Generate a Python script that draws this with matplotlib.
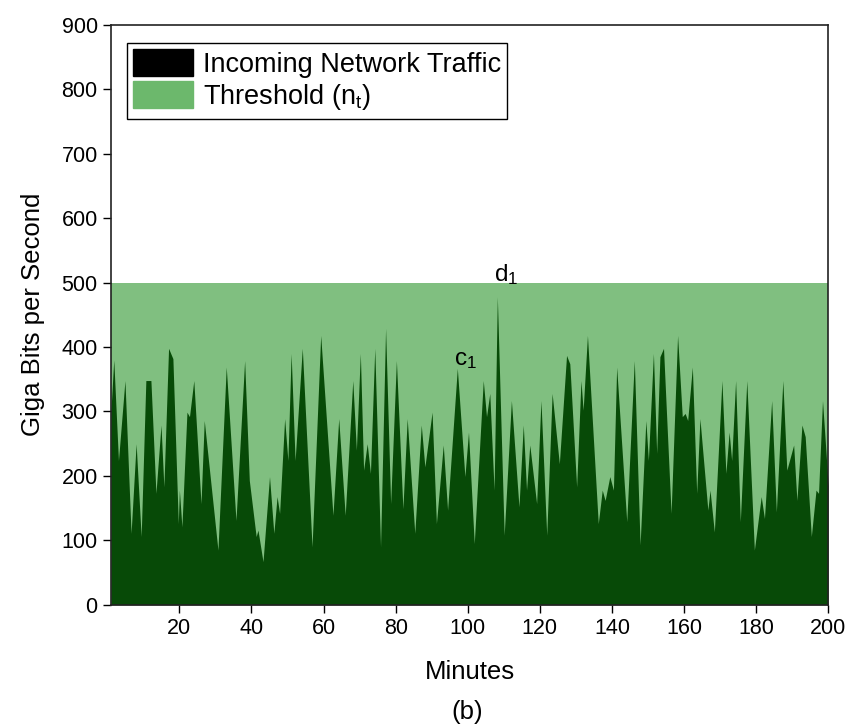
import numpy as np
import matplotlib
matplotlib.use("Agg")
import matplotlib.pyplot as plt
from matplotlib.patches import Patch

plt.rcParams['font.family'] = ['Liberation Sans', 'DejaVu Sans']
plt.rcParams['mathtext.fontset'] = 'custom'
plt.rcParams['mathtext.rm'] = 'Liberation Sans'
plt.rcParams['mathtext.it'] = 'Liberation Sans'

# incoming traffic, peaks and troughs (minute, Gbps)
minutes = [1.0, 1.8, 3.1, 4.9, 6.6, 8.0, 9.4, 10.7, 12.1, 13.5, 14.9, 15.7, 17.0, 18.2,
           19.7, 20.0, 20.7, 22.1, 22.8, 24.0, 26.0, 26.9, 30.7, 33.0, 35.7, 38.1,
           39.4, 41.3, 41.8, 43.2, 45.0, 46.2, 47.1, 47.8, 49.2, 50.1, 51.0, 52.1,
           54.1, 56.8, 59.2, 62.6, 64.2, 66.0, 68.1, 69.1, 70.2, 71.1, 72.1, 73.0,
           74.2, 75.8, 77.2, 78.6, 80.2, 82.0, 83.2, 85.3, 87.1, 88.1, 90.1, 91.3,
           93.2, 94.4, 97.1, 99.2, 100.2, 101.8, 104.3, 105.2, 106.1, 107.3, 108.2,
           110.1, 112.1, 114.2, 115.4, 116.3, 117.2, 119.1, 120.3, 121.9, 123.4,
           125.4, 127.4, 128.3, 130.2, 131.4, 132.0, 133.2, 136.2, 137.3, 138.1,
           139.4, 140.4, 141.3, 144.1, 146.2, 147.8, 149.4, 150.1, 151.5, 152.4,
           153.3, 154.3, 156.4, 158.2, 159.5, 160.3, 161.0, 162.3, 163.5, 164.4,
           166.6, 167.2, 168.4, 170.5, 171.6, 172.5, 173.2, 174.3, 175.6, 177.4,
           179.5, 181.4, 182.3, 184.3, 185.6, 187.4, 188.5, 190.4, 191.3, 192.7,
           193.6, 195.3, 196.6, 197.3, 198.4, 200.0]
traffic = [300, 380, 224, 348, 111, 250, 106, 348, 348, 173, 279, 183, 398, 382,
           126, 178, 121, 299, 292, 348, 157, 286, 85, 369, 131, 379,
           193, 106, 116, 67, 199, 111, 168, 142, 289, 224, 390, 224,
           398, 90, 418, 139, 289, 139, 348, 240, 390, 209, 250, 204,
           398, 90, 429, 157, 379, 149, 289, 111, 279, 214, 299, 126,
           248, 147, 367, 199, 268, 95, 348, 292, 328, 178, 478,
           108, 317, 152, 279, 178, 248, 157, 317, 108, 328,
           219, 387, 374, 183, 348, 302, 418, 126, 178, 162,
           199, 178, 369, 129, 379, 93, 286, 224, 390, 235,
           385, 398, 142, 418, 292, 297, 286, 369, 173, 289,
           147, 178, 113, 348, 204, 268, 224, 348, 129, 348,
           85, 168, 134, 317, 144, 348, 209, 248, 162, 279,
           261, 106, 178, 173, 317, 185]
threshold = 500

dark_green = '#074a07'
light_green = '#80bf80'

fig = plt.figure(figsize=(8.53, 7.27), dpi=100)
ax = fig.add_axes([0.130, 0.168, 0.841, 0.798])

ax.fill_between([1, 200], 0, threshold, color=light_green, linewidth=0)
ax.fill_between(minutes, 0, traffic, color=dark_green, linewidth=0)

ax.text(96.3, 372, r'c$_\mathregular{1}$', fontsize=17.5, ha='left', va='baseline')
ax.text(107.3, 502, r'd$_\mathregular{1}$', fontsize=17.5, ha='left', va='baseline')

ax.set_xlim(1, 200)
ax.set_ylim(0, 900)
ax.set_xticks(np.arange(20, 201, 20))
ax.set_yticks(np.arange(0, 901, 100))
ax.tick_params(direction='out', length=6, width=1, labelsize=15.5,
               top=False, right=False)
for s in ax.spines.values():
    s.set_linewidth(1.2)
    s.set_color('#222222')

ax.set_xlabel('Minutes', fontsize=18.5, labelpad=15)
ax.set_ylabel('Giga Bits per Second', fontsize=18.5, labelpad=12)
fig.text(0.548, 0.02, '(b)', fontsize=18.5, ha='center', va='center')

handles = [Patch(facecolor='black', edgecolor='black'),
           Patch(facecolor='#6cb86c', edgecolor='#6cb86c')]
leg = ax.legend(handles, ['Incoming Network Traffic', r'Threshold (n$_\mathregular{t}$)'],
                loc='upper left', bbox_to_anchor=(0.022, 0.969), fontsize=19.5,
                frameon=True, fancybox=False, framealpha=1, edgecolor='black',
                handlelength=2.2, handleheight=1.15, handletextpad=0.35,
                labelspacing=0.12, borderpad=0.25, borderaxespad=0)
leg.get_frame().set_linewidth(1.0)

fig.savefig('out.png', dpi=100)
